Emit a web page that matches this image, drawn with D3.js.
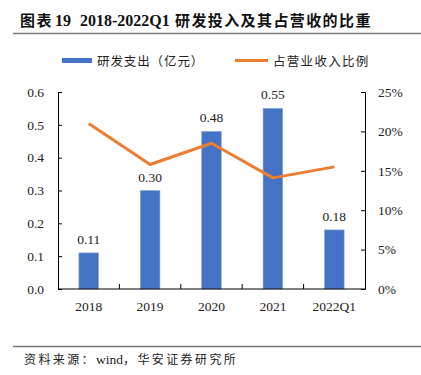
<!DOCTYPE html>
<html>
<head>
<meta charset="utf-8">
<script src="https://cdn.jsdelivr.net/npm/d3@7"></script>
<style>
  body { margin: 0; background: #fff; }
  svg { display: block; }
</style>
</head>
<body>
<svg id="chart"></svg>
<script>
// Data
const years = ["2018", "2019", "2020", "2021", "2022Q1"];
const rdSpend = [0.11, 0.30, 0.48, 0.55, 0.18];       // 亿元
const rdRatio = [0.210, 0.158, 0.185, 0.141, 0.155];  // 占营业收入比例
const leftTicks = [0, 0.1, 0.2, 0.3, 0.4, 0.5, 0.6];
const rightTicks = [0, 0.05, 0.1, 0.15, 0.2, 0.25];

const W = 421, H = 375;
const plot = { left: 58, right: 365, top: 92, bottom: 289 };
const serif = "'Liberation Serif', 'Times New Roman', serif";
const cjk = "'Noto Sans CJK SC', sans-serif";

const svg = d3.select("#chart").attr("width", W).attr("height", H);

// Title
svg.append("text")
  .attr("y", 26)
  .attr("font-weight", "bold")
  .attr("fill", "#111")
  .selectAll("tspan")
  .data([
    { t: "图表", f: cjk, x: 20, s: 15, ls: 1.5 },
    { t: "19", f: serif, x: 55, s: 16, ls: 0 },
    { t: "2018-2022Q1", f: serif, x: 80, s: 16, ls: 0 },
    { t: "研发投入及其占营收的比重", f: cjk, x: 175, s: 15, ls: 1.4 },
  ])
  .join("tspan")
  .attr("x", (d) => d.x)
  .attr("font-family", (d) => d.f)
  .attr("font-size", (d) => d.s)
  .attr("letter-spacing", (d) => d.ls)
  .text((d) => d.t);

svg.append("line")
  .attr("x1", 13).attr("x2", W).attr("y1", 33.5).attr("y2", 33.5)
  .attr("stroke", "#777").attr("stroke-width", 1.5);

// Legend
const legend = svg.append("g").attr("font-family", cjk).attr("font-size", 12.5).attr("fill", "#222");
legend.append("rect").attr("x", 62).attr("y", 58).attr("width", 30).attr("height", 5).attr("fill", "#4472C4");
legend.append("text").attr("x", 97).attr("y", 65.5).attr("letter-spacing", 0.9).text("研发支出（亿元）");
legend.append("line").attr("x1", 235).attr("x2", 268).attr("y1", 60.5).attr("y2", 60.5)
  .attr("stroke", "#ED7D31").attr("stroke-width", 3);
legend.append("text").attr("x", 273).attr("y", 65.5).attr("letter-spacing", 1.3).text("占营业收入比例");

// Scales
const x = d3.scaleBand().domain(years).range([plot.left, plot.right]);
const yL = d3.scaleLinear().domain([0, 0.6]).range([plot.bottom, plot.top]);
const yR = d3.scaleLinear().domain([0, 0.25]).range([plot.bottom, plot.top]);
const barW = x.bandwidth() * 0.32;

// Bars
svg.append("g")
  .selectAll("rect")
  .data(rdSpend)
  .join("rect")
  .attr("x", (d, i) => x(years[i]) + x.bandwidth() / 2 - barW / 2)
  .attr("y", (d) => yL(d))
  .attr("width", barW)
  .attr("height", (d) => yL(0) - yL(d))
  .attr("fill", "#4472C4")
  .attr("stroke", "#8EA9DB")
  .attr("stroke-width", 0.6);

// Bar labels
svg.append("g")
  .attr("font-family", serif).attr("font-size", 13.5).attr("fill", "#222")
  .attr("text-anchor", "middle")
  .selectAll("text")
  .data(rdSpend)
  .join("text")
  .attr("x", (d, i) => x(years[i]) + x.bandwidth() / 2)
  .attr("y", (d) => yL(d) - 9)
  .text((d) => d.toFixed(2));

// Ratio line
const line = d3.line()
  .x((d, i) => x(years[i]) + x.bandwidth() / 2)
  .y((d) => yR(d));
svg.append("path")
  .datum(rdRatio)
  .attr("d", line)
  .attr("fill", "none")
  .attr("stroke", "#ED7D31")
  .attr("stroke-width", 3)
  .attr("stroke-linejoin", "round");

// Axes
const axisL = d3.axisLeft(yL).tickValues(leftTicks).tickFormat(d3.format(".1f")).tickSizeInner(-4).tickSizeOuter(-4).tickPadding(14);
const axisR = d3.axisRight(yR).tickValues(rightTicks).tickFormat(d3.format(".0%")).tickSizeInner(-4).tickSizeOuter(-4).tickPadding(13);

const gL = svg.append("g").attr("transform", `translate(${plot.left},0)`).call(axisL);
const gR = svg.append("g").attr("transform", `translate(${plot.right},0)`).call(axisR);

// X axis: baseline, boundary ticks pointing up, centered labels
const gX = svg.append("g");
gX.append("line")
  .attr("x1", plot.left).attr("x2", plot.right)
  .attr("y1", plot.bottom).attr("y2", plot.bottom)
  .attr("stroke", "#000").attr("stroke-width", 1);
gX.selectAll("line.tick")
  .data(years.slice(1))
  .join("line")
  .attr("class", "tick")
  .attr("x1", (d) => x(d)).attr("x2", (d) => x(d))
  .attr("y1", plot.bottom).attr("y2", plot.bottom - 5)
  .attr("stroke", "#000");
gX.selectAll("text")
  .data(years)
  .join("text")
  .attr("x", (d) => x(d) + x.bandwidth() / 2)
  .attr("y", 311)
  .attr("text-anchor", "middle")
  .attr("font-family", serif).attr("font-size", 13.5).attr("fill", "#222")
  .text((d) => d);

[gL, gR].forEach((g) => {
  g.selectAll("text").attr("font-family", serif).attr("font-size", 13.5).attr("fill", "#222");
  g.selectAll("line, path").attr("stroke", "#000");
});

// Footer
svg.append("line")
  .attr("x1", 13).attr("x2", W).attr("y1", 346.5).attr("y2", 346.5)
  .attr("stroke", "#777").attr("stroke-width", 1.5);
svg.append("text")
  .attr("x", 24).attr("y", 364)
  .attr("fill", "#222")
  .selectAll("tspan")
  .data([
    { t: "资料来源：", f: cjk, s: 12, ls: 2.4 },
    { t: "wind", f: serif, s: 13.5, ls: 0 },
    { t: "，华安证券研究所", f: cjk, s: 12, ls: 2.4 },
  ])
  .join("tspan")
  .attr("font-family", (d) => d.f)
  .attr("font-size", (d) => d.s)
  .attr("letter-spacing", (d) => d.ls)
  .text((d) => d.t);
</script>
</body>
</html>
